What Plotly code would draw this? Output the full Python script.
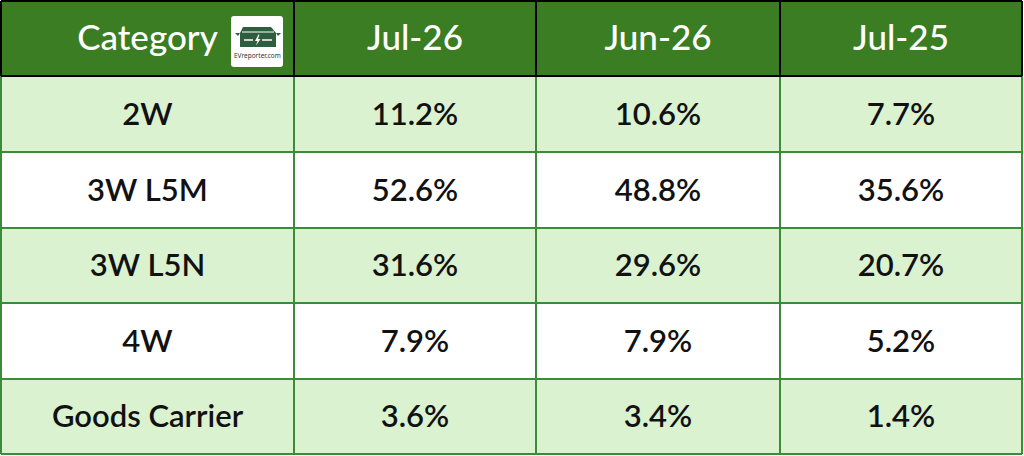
import numpy as np
import plotly.graph_objects as go

# ---------------- data ----------------
first_header = "Category"
periods = ["Jul-26", "Jun-26", "Jul-25"]
categories = ["2W", "3W L5M", "3W L5N", "4W", "Goods Carrier"]
jul26 = [11.2, 52.6, 31.6, 7.9, 3.6]
jun26 = [10.6, 48.8, 29.6, 7.9, 3.4]
jul25 = [7.7, 35.6, 20.7, 5.2, 1.4]

# ---------------- layout / style ----------------
W, H = 1024, 456
X0, Y0 = 1, 1
COL_W = [293, 242, 244, 242]
ROW_H = [75, 76, 76, 75, 76, 75]  # header + body rows
TEXT_DY_HDR = 2.5
TEXT_DY_BODY = 3

HDR = "#3A7D22"
LIGHT = "#DAF2D0"
WHITE = "#FFFFFF"
GRID = "#3C8B3A"
BLACK = "#000000"
ICON = "#2E5E3E"
FONT = "Lato"

x_edges = X0 + np.concatenate([[0], np.cumsum(COL_W)])
y_edges = Y0 + np.concatenate([[0], np.cumsum(ROW_H)])
x_cent = (x_edges[:-1] + x_edges[1:]) / 2
y_cent = (y_edges[:-1] + y_edges[1:]) / 2

series = [jul26, jun26, jul25]
n_rows = len(categories)
n_cols = 1 + len(periods)

# background colour code per cell: 0 header, 1 light, 2 white
z = [[0] * n_cols]
for i in range(n_rows):
    z.append([1 if i % 2 == 0 else 2] * n_cols)

fig = go.Figure()
fig.add_trace(go.Heatmap(
    x=x_edges, y=y_edges, z=z,
    zmin=0, zmax=2,
    colorscale=[[0, HDR], [0.5, LIGHT], [1, WHITE]],
    showscale=False, hoverinfo="skip",
))

# header texts
fig.add_trace(go.Scatter(
    x=list(x_cent), y=[y_cent[0] + TEXT_DY_HDR] * n_cols,
    text=[first_header] + periods,
    mode="text", textposition="middle center",
    textfont=dict(family=FONT, size=35, color="white", weight=500),
    hoverinfo="skip", showlegend=False,
))

# body texts
bx, by, bt = [], [], []
for i, cat in enumerate(categories):
    yy = y_cent[i + 1] + TEXT_DY_BODY
    bx.append(x_cent[0]); by.append(yy); bt.append(cat)
    for j, s in enumerate(series):
        bx.append(x_cent[j + 1]); by.append(yy); bt.append(f"{s[i]:.1f}%")
fig.add_trace(go.Scatter(
    x=bx, y=by, text=bt,
    mode="text", textposition="middle center",
    textfont=dict(family=FONT, size=31, color="#111111", weight=600),
    hoverinfo="skip", showlegend=False,
))

shapes = []
# body grid (green)
for xe in x_edges:
    shapes.append(dict(type="line", x0=xe, x1=xe, y0=y_edges[1], y1=y_edges[-1],
                       line=dict(color=GRID, width=2)))
for ye in y_edges[2:]:
    shapes.append(dict(type="line", x0=x_edges[0], x1=x_edges[-1], y0=ye, y1=ye,
                       line=dict(color=GRID, width=2)))
# header grid (black)
for xe in x_edges:
    shapes.append(dict(type="line", x0=xe, x1=xe, y0=y_edges[0], y1=y_edges[1],
                       line=dict(color=BLACK, width=2)))
for ye in y_edges[:2]:
    shapes.append(dict(type="line", x0=x_edges[0], x1=x_edges[-1], y0=ye, y1=ye,
                       line=dict(color=BLACK, width=2)))

# logo badge
shapes.append(dict(type="path",
                   path="M 234,16 L 280,16 Q 283,16 283,19 L 283,64 Q 283,67 280,67 "
                        "L 234,67 Q 231,67 231,64 L 231,19 Q 231,16 234,16 Z",
                   fillcolor="white", line=dict(width=0)))
shapes.append(dict(type="path", path="M 243,27 L 271,27 L 276,33 L 276,47 L 240,47 L 240,33 Z",
                   fillcolor=ICON, line=dict(width=0)))
shapes.append(dict(type="path", path="M 235,33 L 240,33 L 238,36 Z", fillcolor=ICON, line=dict(width=0)))
shapes.append(dict(type="path", path="M 276,33 L 281,33 L 278,36 Z", fillcolor=ICON, line=dict(width=0)))
shapes.append(dict(type="line", x0=242, x1=274, y0=32, y1=32, line=dict(color="white", width=1)))
shapes.append(dict(type="line", x0=244, x1=253, y0=40, y1=40, line=dict(color="white", width=1.5)))
shapes.append(dict(type="line", x0=262, x1=272, y0=40, y1=40, line=dict(color="white", width=1.5)))
shapes.append(dict(type="path", path="M 258.5,34.5 L 255,41 L 257.5,41 L 256,45.5 L 260.5,39 L 258,39 L 259.5,34.5 Z",
                   fillcolor="white", line=dict(width=0)))

fig.update_layout(
    width=W, height=H,
    margin=dict(l=0, r=0, t=0, b=0),
    paper_bgcolor="white", plot_bgcolor="white",
    xaxis=dict(range=[0, W], visible=False, fixedrange=True),
    yaxis=dict(range=[H, 0], visible=False, fixedrange=True),
    shapes=shapes,
    annotations=[dict(x=257, y=55.5, xref="x", yref="y", text="EVreporter.com",
                      showarrow=False, font=dict(family="Noto Sans", size=6.5, color="#333333"))],
    showlegend=False,
)

fig.write_html(
    "out.html",
    config={"displayModeBar": False},
    post_script="document.body.style.margin='0';document.body.style.overflow='hidden';",
)
